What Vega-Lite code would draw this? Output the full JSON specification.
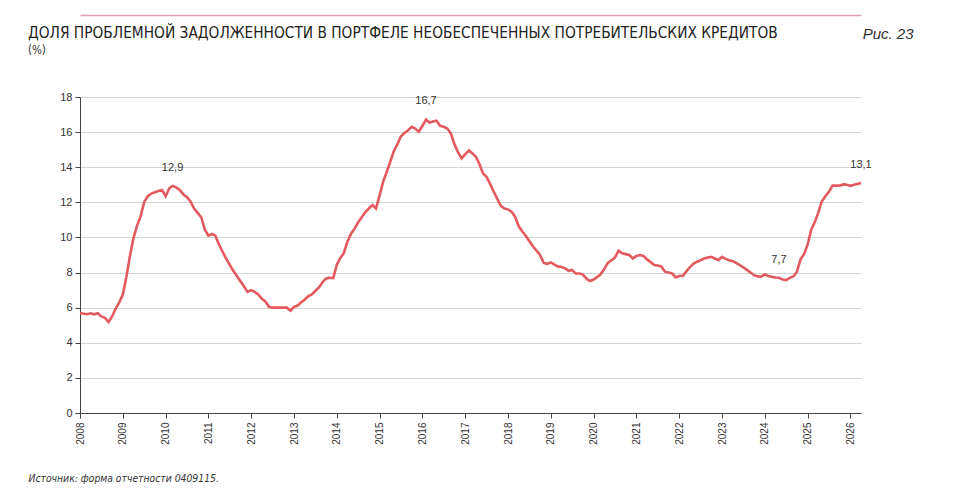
{
  "$schema": "https://vega.github.io/schema/vega-lite/v6.json",
  "width": 781,
  "height": 316,
  "autosize": {"type": "none"},
  "padding": {"left": 80, "top": 97, "right": 99, "bottom": 77},
  "background": "white",
  "title": {
    "text": "ДОЛЯ ПРОБЛЕМНОЙ ЗАДОЛЖЕННОСТИ В ПОРТФЕЛЕ НЕОБЕСПЕЧЕННЫХ ПОТРЕБИТЕЛЬСКИХ КРЕДИТОВ",
    "subtitle": "(%)",
    "anchor": "start",
    "frame": "group",
    "dx": -52,
    "offset": -42,
    "font": "Liberation Sans Narrow, DejaVu Sans Condensed, sans-serif",
    "fontSize": 15.3,
    "fontWeight": "normal",
    "color": "#222222",
    "subtitleFont": "Liberation Sans Narrow, DejaVu Sans Condensed, sans-serif",
    "subtitleFontSize": 11.5,
    "subtitleColor": "#333333",
    "subtitlePadding": 4
  },
  "config": {
    "view": {"stroke": null},
    "axis": {
      "labelFont": "Liberation Sans, Arial, sans-serif",
      "labelColor": "#333333",
      "domainColor": "#444444",
      "tickColor": "#444444",
      "gridColor": "#d4d4d4"
    }
  },
  "data": {
    "values": [
      {"date": "2008-01-01", "value": 5.7},
      {"date": "2008-02-01", "value": 5.65},
      {"date": "2008-03-01", "value": 5.63},
      {"date": "2008-04-01", "value": 5.68},
      {"date": "2008-05-01", "value": 5.62},
      {"date": "2008-06-01", "value": 5.68},
      {"date": "2008-07-01", "value": 5.5},
      {"date": "2008-08-01", "value": 5.42},
      {"date": "2008-09-01", "value": 5.18},
      {"date": "2008-10-01", "value": 5.5},
      {"date": "2008-11-01", "value": 5.95},
      {"date": "2008-12-01", "value": 6.3},
      {"date": "2009-01-01", "value": 6.75},
      {"date": "2009-02-01", "value": 7.8},
      {"date": "2009-03-01", "value": 8.9},
      {"date": "2009-04-01", "value": 9.95},
      {"date": "2009-05-01", "value": 10.65},
      {"date": "2009-06-01", "value": 11.2},
      {"date": "2009-07-01", "value": 12.0},
      {"date": "2009-08-01", "value": 12.35},
      {"date": "2009-09-01", "value": 12.5},
      {"date": "2009-10-01", "value": 12.57},
      {"date": "2009-11-01", "value": 12.65},
      {"date": "2009-12-01", "value": 12.7},
      {"date": "2010-01-01", "value": 12.35},
      {"date": "2010-02-01", "value": 12.8},
      {"date": "2010-03-01", "value": 12.93, "label": "12,9"},
      {"date": "2010-04-01", "value": 12.85},
      {"date": "2010-05-01", "value": 12.7},
      {"date": "2010-06-01", "value": 12.45},
      {"date": "2010-07-01", "value": 12.3},
      {"date": "2010-08-01", "value": 12.05},
      {"date": "2010-09-01", "value": 11.65},
      {"date": "2010-10-01", "value": 11.4},
      {"date": "2010-11-01", "value": 11.15},
      {"date": "2010-12-01", "value": 10.45},
      {"date": "2011-01-01", "value": 10.1},
      {"date": "2011-02-01", "value": 10.2},
      {"date": "2011-03-01", "value": 10.1},
      {"date": "2011-04-01", "value": 9.6},
      {"date": "2011-05-01", "value": 9.2},
      {"date": "2011-06-01", "value": 8.8},
      {"date": "2011-07-01", "value": 8.45},
      {"date": "2011-08-01", "value": 8.1},
      {"date": "2011-09-01", "value": 7.8},
      {"date": "2011-10-01", "value": 7.5},
      {"date": "2011-11-01", "value": 7.2},
      {"date": "2011-12-01", "value": 6.9},
      {"date": "2012-01-01", "value": 7.0},
      {"date": "2012-02-01", "value": 6.9},
      {"date": "2012-03-01", "value": 6.75},
      {"date": "2012-04-01", "value": 6.5},
      {"date": "2012-05-01", "value": 6.35},
      {"date": "2012-06-01", "value": 6.05},
      {"date": "2012-07-01", "value": 6.0},
      {"date": "2012-08-01", "value": 6.0},
      {"date": "2012-09-01", "value": 6.0},
      {"date": "2012-10-01", "value": 6.0},
      {"date": "2012-11-01", "value": 6.0},
      {"date": "2012-12-01", "value": 5.83},
      {"date": "2013-01-01", "value": 6.05},
      {"date": "2013-02-01", "value": 6.12},
      {"date": "2013-03-01", "value": 6.3},
      {"date": "2013-04-01", "value": 6.45},
      {"date": "2013-05-01", "value": 6.65},
      {"date": "2013-06-01", "value": 6.75},
      {"date": "2013-07-01", "value": 6.95},
      {"date": "2013-08-01", "value": 7.15},
      {"date": "2013-09-01", "value": 7.45},
      {"date": "2013-10-01", "value": 7.67},
      {"date": "2013-11-01", "value": 7.7},
      {"date": "2013-12-01", "value": 7.68},
      {"date": "2014-01-01", "value": 8.45},
      {"date": "2014-02-01", "value": 8.85},
      {"date": "2014-03-01", "value": 9.1},
      {"date": "2014-04-01", "value": 9.75},
      {"date": "2014-05-01", "value": 10.2},
      {"date": "2014-06-01", "value": 10.5},
      {"date": "2014-07-01", "value": 10.85},
      {"date": "2014-08-01", "value": 11.15},
      {"date": "2014-09-01", "value": 11.45},
      {"date": "2014-10-01", "value": 11.65},
      {"date": "2014-11-01", "value": 11.85},
      {"date": "2014-12-01", "value": 11.65},
      {"date": "2015-01-01", "value": 12.4},
      {"date": "2015-02-01", "value": 13.2},
      {"date": "2015-03-01", "value": 13.7},
      {"date": "2015-04-01", "value": 14.3},
      {"date": "2015-05-01", "value": 14.9},
      {"date": "2015-06-01", "value": 15.3},
      {"date": "2015-07-01", "value": 15.75},
      {"date": "2015-08-01", "value": 15.95},
      {"date": "2015-09-01", "value": 16.1},
      {"date": "2015-10-01", "value": 16.3},
      {"date": "2015-11-01", "value": 16.2},
      {"date": "2015-12-01", "value": 16.02},
      {"date": "2016-01-01", "value": 16.35},
      {"date": "2016-02-01", "value": 16.72, "label": "16,7"},
      {"date": "2016-03-01", "value": 16.55},
      {"date": "2016-04-01", "value": 16.6},
      {"date": "2016-05-01", "value": 16.65},
      {"date": "2016-06-01", "value": 16.35},
      {"date": "2016-07-01", "value": 16.3},
      {"date": "2016-08-01", "value": 16.2},
      {"date": "2016-09-01", "value": 15.9},
      {"date": "2016-10-01", "value": 15.3},
      {"date": "2016-11-01", "value": 14.85},
      {"date": "2016-12-01", "value": 14.5},
      {"date": "2017-01-01", "value": 14.75},
      {"date": "2017-02-01", "value": 14.95},
      {"date": "2017-03-01", "value": 14.8},
      {"date": "2017-04-01", "value": 14.6},
      {"date": "2017-05-01", "value": 14.2},
      {"date": "2017-06-01", "value": 13.65},
      {"date": "2017-07-01", "value": 13.45},
      {"date": "2017-08-01", "value": 13.05},
      {"date": "2017-09-01", "value": 12.6},
      {"date": "2017-10-01", "value": 12.2},
      {"date": "2017-11-01", "value": 11.8},
      {"date": "2017-12-01", "value": 11.65},
      {"date": "2018-01-01", "value": 11.6},
      {"date": "2018-02-01", "value": 11.45},
      {"date": "2018-03-01", "value": 11.2},
      {"date": "2018-04-01", "value": 10.65},
      {"date": "2018-05-01", "value": 10.35},
      {"date": "2018-06-01", "value": 10.1},
      {"date": "2018-07-01", "value": 9.8},
      {"date": "2018-08-01", "value": 9.5},
      {"date": "2018-09-01", "value": 9.25},
      {"date": "2018-10-01", "value": 9.0},
      {"date": "2018-11-01", "value": 8.55},
      {"date": "2018-12-01", "value": 8.5},
      {"date": "2019-01-01", "value": 8.58},
      {"date": "2019-02-01", "value": 8.45},
      {"date": "2019-03-01", "value": 8.35},
      {"date": "2019-04-01", "value": 8.32},
      {"date": "2019-05-01", "value": 8.25},
      {"date": "2019-06-01", "value": 8.1},
      {"date": "2019-07-01", "value": 8.15},
      {"date": "2019-08-01", "value": 7.95},
      {"date": "2019-09-01", "value": 7.95},
      {"date": "2019-10-01", "value": 7.9},
      {"date": "2019-11-01", "value": 7.65},
      {"date": "2019-12-01", "value": 7.52},
      {"date": "2020-01-01", "value": 7.6},
      {"date": "2020-02-01", "value": 7.75},
      {"date": "2020-03-01", "value": 7.9},
      {"date": "2020-04-01", "value": 8.2},
      {"date": "2020-05-01", "value": 8.55},
      {"date": "2020-06-01", "value": 8.7},
      {"date": "2020-07-01", "value": 8.85},
      {"date": "2020-08-01", "value": 9.25},
      {"date": "2020-09-01", "value": 9.1},
      {"date": "2020-10-01", "value": 9.05},
      {"date": "2020-11-01", "value": 9.0},
      {"date": "2020-12-01", "value": 8.8},
      {"date": "2021-01-01", "value": 8.95},
      {"date": "2021-02-01", "value": 9.0},
      {"date": "2021-03-01", "value": 8.95},
      {"date": "2021-04-01", "value": 8.75},
      {"date": "2021-05-01", "value": 8.6},
      {"date": "2021-06-01", "value": 8.43},
      {"date": "2021-07-01", "value": 8.4},
      {"date": "2021-08-01", "value": 8.35},
      {"date": "2021-09-01", "value": 8.05},
      {"date": "2021-10-01", "value": 8.0},
      {"date": "2021-11-01", "value": 7.95},
      {"date": "2021-12-01", "value": 7.72},
      {"date": "2022-01-01", "value": 7.8},
      {"date": "2022-02-01", "value": 7.82},
      {"date": "2022-03-01", "value": 8.05},
      {"date": "2022-04-01", "value": 8.3},
      {"date": "2022-05-01", "value": 8.5},
      {"date": "2022-06-01", "value": 8.62},
      {"date": "2022-07-01", "value": 8.7},
      {"date": "2022-08-01", "value": 8.8},
      {"date": "2022-09-01", "value": 8.85},
      {"date": "2022-10-01", "value": 8.9},
      {"date": "2022-11-01", "value": 8.8},
      {"date": "2022-12-01", "value": 8.7},
      {"date": "2023-01-01", "value": 8.9},
      {"date": "2023-02-01", "value": 8.78},
      {"date": "2023-03-01", "value": 8.7},
      {"date": "2023-04-01", "value": 8.65},
      {"date": "2023-05-01", "value": 8.55},
      {"date": "2023-06-01", "value": 8.43},
      {"date": "2023-07-01", "value": 8.3},
      {"date": "2023-08-01", "value": 8.15},
      {"date": "2023-09-01", "value": 8.0},
      {"date": "2023-10-01", "value": 7.85},
      {"date": "2023-11-01", "value": 7.78},
      {"date": "2023-12-01", "value": 7.76},
      {"date": "2024-01-01", "value": 7.9},
      {"date": "2024-02-01", "value": 7.8},
      {"date": "2024-03-01", "value": 7.76},
      {"date": "2024-04-01", "value": 7.72},
      {"date": "2024-05-01", "value": 7.7, "label": "7,7"},
      {"date": "2024-06-01", "value": 7.6},
      {"date": "2024-07-01", "value": 7.57},
      {"date": "2024-08-01", "value": 7.7},
      {"date": "2024-09-01", "value": 7.78},
      {"date": "2024-10-01", "value": 8.05},
      {"date": "2024-11-01", "value": 8.75},
      {"date": "2024-12-01", "value": 9.05},
      {"date": "2025-01-01", "value": 9.6},
      {"date": "2025-02-01", "value": 10.45},
      {"date": "2025-03-01", "value": 10.85},
      {"date": "2025-04-01", "value": 11.4},
      {"date": "2025-05-01", "value": 12.05},
      {"date": "2025-06-01", "value": 12.35},
      {"date": "2025-07-01", "value": 12.6},
      {"date": "2025-08-01", "value": 12.95},
      {"date": "2025-09-01", "value": 12.95},
      {"date": "2025-10-01", "value": 12.95},
      {"date": "2025-11-01", "value": 13.02},
      {"date": "2025-12-01", "value": 13.0},
      {"date": "2026-01-01", "value": 12.94},
      {"date": "2026-02-01", "value": 13.0},
      {"date": "2026-03-01", "value": 13.05},
      {"date": "2026-04-01", "value": 13.1, "label": "13,1"}
    ]
  },
  "encoding": {
    "x": {
      "field": "date",
      "type": "temporal",
      "scale": {"type": "utc", "domain": ["2008-01-01", "2026-04-01"], "nice": false},
      "axis": {
        "format": "%Y",
        "tickCount": {"interval": "year", "step": 1},
        "labelAngle": -90,
        "labelAlign": "right",
        "labelBaseline": "middle",
        "labelFontSize": 10,
        "labelPadding": 4,
        "labelFlush": false,
        "labelOverlap": false,
        "tickSize": 5,
        "grid": false,
        "title": "Источник: форма отчетности 0409115.",
        "titleX": -52,
        "titleY": 65,
        "titleAlign": "left",
        "titleAnchor": null,
        "titleBaseline": "middle",
        "titleAngle": 0,
        "titleFont": "Liberation Sans Narrow, DejaVu Sans Condensed, sans-serif",
        "titleFontSize": 10.3,
        "titleFontStyle": "italic",
        "titleFontWeight": "normal",
        "titleColor": "#333333"
      }
    },
    "y": {
      "field": "value",
      "type": "quantitative",
      "scale": {"domain": [0, 18], "nice": false},
      "axis": {
        "values": [0, 2, 4, 6, 8, 10, 12, 14, 16, 18],
        "labelFontSize": 11,
        "labelPadding": 3,
        "tickSize": 5,
        "grid": true,
        "title": "Рис. 23",
        "titleX": 833,
        "titleY": -64,
        "titleAlign": "right",
        "titleAnchor": null,
        "titleBaseline": "middle",
        "titleAngle": 0,
        "titleFont": "Liberation Sans, Arial, sans-serif",
        "titleFontSize": 15,
        "titleFontStyle": "italic",
        "titleFontWeight": "normal",
        "titleColor": "#333333"
      }
    }
  },
  "layer": [
    {
      "mark": {"type": "line", "color": "#e35a5e", "strokeWidth": 2.6, "interpolate": "linear"}
    },
    {
      "transform": [{"filter": "isValid(datum.label)"}],
      "mark": {"type": "text", "dy": -18, "fontSize": 11, "font": "Liberation Sans, Arial, sans-serif", "color": "#333333", "baseline": "middle"},
      "encoding": {
        "text": {"field": "label"},
        "x": {
          "field": "date",
          "type": "temporal",
          "axis": {"orient": "top", "offset": 82, "domainColor": "#e0a0b4", "domainWidth": 1.5, "labels": false, "ticks": false, "grid": false, "title": null}
        }
      }
    }
  ],
  "resolve": {"axis": {"x": "independent"}}
}
